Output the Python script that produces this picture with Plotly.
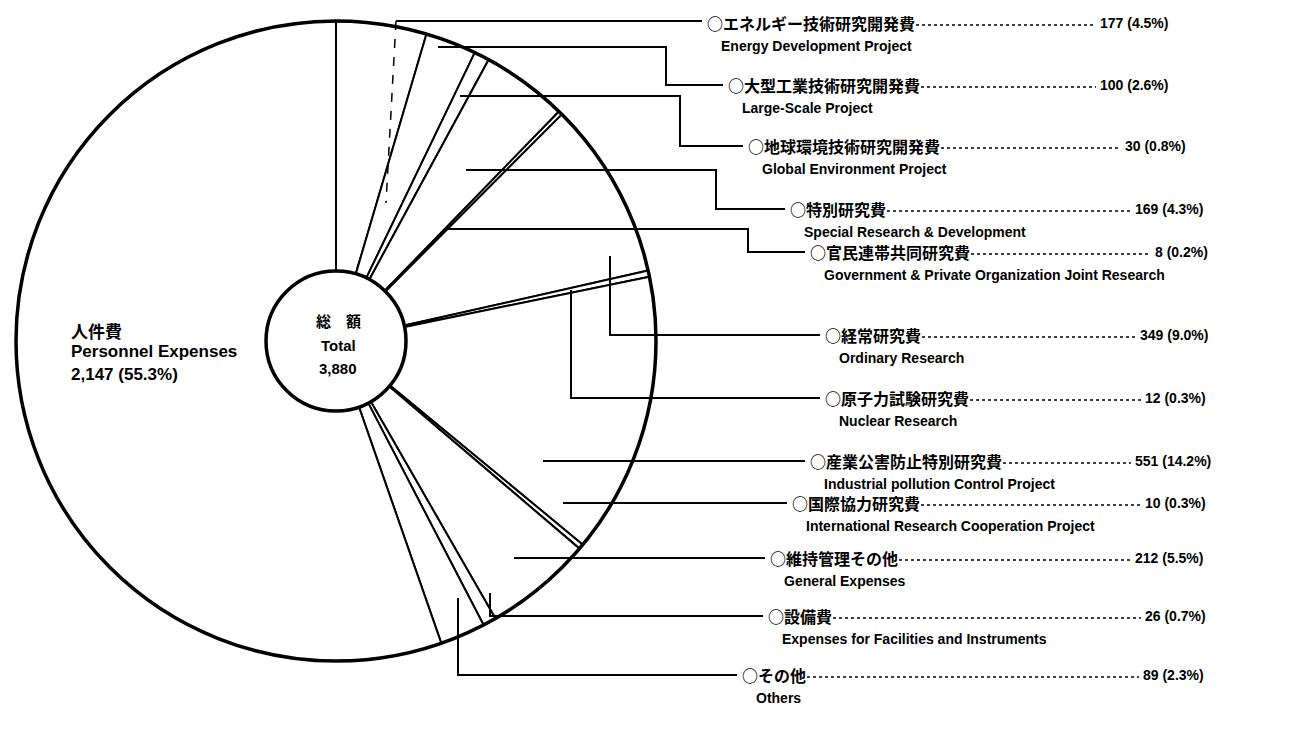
import plotly.graph_objects as go

# --- data ---
CATEGORIES_JA = [
    "エネルギー技術研究開発費", "大型工業技術研究開発費", "地球環境技術研究開発費",
    "特別研究費", "官民連帯共同研究費", "経常研究費", "原子力試験研究費",
    "産業公害防止特別研究費", "国際協力研究費", "維持管理その他", "設備費", "その他",
    "人件費",
]
CATEGORIES_EN = [
    "Energy Development Project", "Large-Scale Project", "Global Environment Project",
    "Special Research & Development", "Government & Private Organization Joint Research",
    "Ordinary Research", "Nuclear Research", "Industrial pollution Control Project",
    "International Research Cooperation Project", "General Expenses",
    "Expenses for Facilities and Instruments", "Others",
    "Personnel Expenses",
]
VALUES = [177, 100, 30, 169, 8, 349, 12, 551, 10, 212, 26, 89, 2147]
PERCENTS = [4.5, 2.6, 0.8, 4.3, 0.2, 9.0, 0.3, 14.2, 0.3, 5.5, 0.7, 2.3, 55.3]
TOTAL = 3880

# --- layout (pixels in the 1314x731 page) ---
W, H = 1314, 731
PIE_CX, PIE_CY, PIE_R = 328, 333, 320
HOLE = 70 / 320

ROW_Y = [15, 77, 138, 201, 244, 327, 390, 453, 495, 550, 608, 667]
LABEL_X = [697, 718, 738, 780, 800, 815, 815, 800, 782, 760, 758, 732]
VALUE_X = [1090, 1090, 1115, 1125, 1145, 1130, 1135, 1125, 1135, 1125, 1135, 1133]

# leader polylines from inside the slice to the label
LEADERS = [
    [(388, 13), (LABEL_X[0] - 3, 13)],
    [(430, 39), (658, 39), (658, 77), (LABEL_X[1] - 3, 77)],
    [(452, 88), (672, 88), (672, 138), (LABEL_X[2] - 3, 138)],
    [(458, 162), (708, 162), (708, 201), (LABEL_X[3] - 3, 201)],
    [(438, 221), (740, 221), (740, 244), (LABEL_X[4] - 3, 244)],
    [(602, 248), (602, 327), (LABEL_X[5] - 3, 327)],
    [(563, 282), (563, 390), (LABEL_X[6] - 3, 390)],
    [(535, 453), (LABEL_X[7] - 3, 453)],
    [(555, 495), (LABEL_X[8] - 3, 495)],
    [(506, 550), (LABEL_X[9] - 3, 550)],
    [(482, 585), (482, 608), (LABEL_X[10] - 3, 608)],
    [(450, 590), (450, 667), (LABEL_X[11] - 3, 667)],
]

JA_FONT = "Noto Sans CJK JP"
EN_FONT = "Liberation Sans"
JA_SIZE = 16
EN_SIZE = 14
BIG_SIZE = 17


def px(x):
    return x / W


def py(y):
    return 1 - y / H


def path(points):
    return "M " + " L ".join(f"{px(x):.5f},{py(y):.5f}" for x, y in points)


def text(x, y, s, family, size, anchor="left"):
    return dict(x=px(x), y=py(y), xref="paper", yref="paper", xanchor=anchor,
                yanchor="middle", text=f"<b>{s}</b>", showarrow=False,
                font=dict(family=family, size=size, color="black"))


dom_x = [px(PIE_CX - PIE_R), px(PIE_CX + PIE_R)]
dom_y = [py(PIE_CY + PIE_R), py(PIE_CY - PIE_R)]

fig = go.Figure()

fig.add_trace(go.Pie(
    labels=CATEGORIES_EN, values=VALUES,
    sort=False, direction="clockwise", rotation=0,
    hole=HOLE, textinfo="none", hoverinfo="label+value+percent",
    marker=dict(colors=["white"] * len(VALUES), line=dict(color="black", width=2)),
    domain=dict(x=dom_x, y=dom_y), showlegend=False,
))
# heavier outer rim and hole outline
fig.add_trace(go.Pie(
    values=[TOTAL], sort=False, hole=HOLE, textinfo="none", hoverinfo="skip",
    marker=dict(colors=["rgba(0,0,0,0)"], line=dict(color="black", width=3.5)),
    domain=dict(x=dom_x, y=dom_y), showlegend=False,
))

shapes = []
annotations = []

for pts in LEADERS:
    shapes.append(dict(type="path", path=path(pts), xref="paper", yref="paper",
                       line=dict(color="black", width=2)))

# the energy leader dips into its slice as a broken line
shapes.append(dict(type="line", xref="paper", yref="paper",
                   x0=px(388), y0=py(13), x1=px(378), y1=py(195),
                   line=dict(color="black", width=1.5, dash="dash")))

for i in range(12):
    y = ROW_Y[i]
    x0 = LABEL_X[i]
    ja = "○" + CATEGORIES_JA[i]
    annotations.append(text(x0, y, ja, JA_FONT, JA_SIZE))
    annotations.append(text(x0 + 14, y + 23, CATEGORIES_EN[i], EN_FONT, EN_SIZE))
    annotations.append(text(VALUE_X[i], y, f"{VALUES[i]:,} ({PERCENTS[i]:.1f}%)",
                            EN_FONT, EN_SIZE))
    label_end = x0 + len(ja) * JA_SIZE + 3
    shapes.append(dict(type="line", xref="paper", yref="paper",
                       x0=px(label_end), y0=py(y + 2), x1=px(VALUE_X[i] - 2), y1=py(y + 2),
                       line=dict(color="black", width=1.5, dash="dot")))

# personnel expenses label inside the big slice
annotations.append(text(61, 322, CATEGORIES_JA[12], JA_FONT, BIG_SIZE))
annotations.append(text(61, 343, CATEGORIES_EN[12], EN_FONT, BIG_SIZE))
annotations.append(text(61, 367, f"{VALUES[12]:,} ({PERCENTS[12]:.1f}%)", EN_FONT, BIG_SIZE))

# centre of the ring
annotations.append(text(PIE_CX + 2, 312, "総　額", JA_FONT, 15, "center"))
annotations.append(text(PIE_CX + 2, 337, "Total", EN_FONT, 15, "center"))
annotations.append(text(PIE_CX + 2, 361, f"{TOTAL:,}", EN_FONT, 15, "center"))

fig.update_layout(
    width=W, height=H,
    margin=dict(l=0, r=0, t=0, b=0),
    paper_bgcolor="white", plot_bgcolor="white",
    showlegend=False,
    shapes=shapes, annotations=annotations,
)

fig.write_html("out.html")
